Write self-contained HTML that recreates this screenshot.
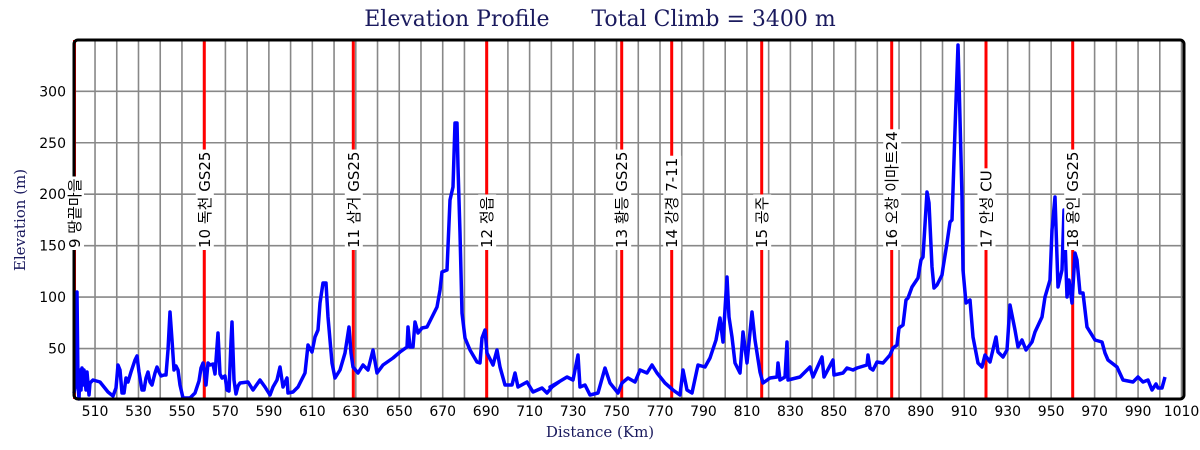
<!DOCTYPE html>
<html><head><meta charset="utf-8"><style>
html,body{margin:0;padding:0;background:#fff;}
svg{display:block;}
.tk{font-family:"DejaVu Sans","Liberation Sans",sans-serif;font-size:14px;fill:#000;}
.nv{font-family:"DejaVu Serif","Liberation Serif",serif;fill:#1a1a5e;}
.lb{font-family:"DejaVu Sans","Liberation Sans","Noto Sans CJK KR",sans-serif;font-size:15px;fill:#000;}
</style></head><body>
<svg id="s" width="1200" height="450" xmlns="http://www.w3.org/2000/svg">
<text class="nv" x="600" y="26" font-size="22" text-anchor="middle" xml:space="preserve">Elevation Profile      Total Climb = 3400 m</text>
<text class="nv" font-size="15" text-anchor="middle" transform="translate(25,220) rotate(-90)">Elevation (m)</text>
<text class="nv" x="600" y="437" font-size="15" text-anchor="middle">Distance (Km)</text>
<g id="grid"></g>
<g id="red"></g>
<polyline id="pl" fill="none" stroke="#0000ff" stroke-width="3.5" stroke-linejoin="round" points=""/>
<rect x="74" y="40" width="1110" height="359" rx="4" fill="none" stroke="#000" stroke-width="3"/>
<g id="lbls"></g>
<g id="ticks"></g>
</svg>
<script>
var NS="http://www.w3.org/2000/svg";
function el(t,a,p,txt){var e=document.createElementNS(NS,t);for(var k in a)e.setAttribute(k,a[k]);if(txt!=null)e.textContent=txt;document.getElementById(p).appendChild(e);return e;}
function X(km){return 73.3+(km-500)*2.173;}
function Y(v){return 400-v*1.029;}
for(var k=510;k<=1010;k+=10){el('line',{x1:X(k),x2:X(k),y1:40,y2:399,stroke:'#888','stroke-width':1.6},'grid');}
for(var v=50;v<=300;v+=50){el('line',{x1:74,x2:1184,y1:Y(v),y2:Y(v),stroke:'#888','stroke-width':1.6},'grid');
 el('text',{x:66,y:Y(v)+5,'text-anchor':'end','class':'tk'},'ticks',String(v));}
for(var k=510;k<=1010;k+=20){el('text',{x:X(k),y:416,'text-anchor':'middle','class':'tk'},'ticks',String(k));}
var reds=[[74.5,"9 땅끝마을"],[204.3,"10 독천 GS25"],[353.3,"11 삼거 GS25"],[486.7,"12 정읍"],[621.7,"13 황등 GS25"],[671.7,"14 강경 7-11"],[761.7,"15 공주"],[891.7,"16 오창 이마트24"],[986,"17 안성 CU"],[1072.7,"18 용인 GS25"]];
reds.forEach(function(r){el('line',{x1:r[0],x2:r[0],y1:40,y2:399,stroke:'#ff0000','stroke-width':3},'red');});
reds.forEach(function(r){
 var g=el('g',{transform:'translate('+(r[0]+5.5)+',248) rotate(-90)'},'lbls');
 var rc=document.createElementNS(NS,'rect');g.appendChild(rc);
 var t=document.createElementNS(NS,'text');t.setAttribute('class','lb');t.setAttribute('x',0);t.setAttribute('y',0);t.textContent=r[1];g.appendChild(t);
 var b=t.getBBox();rc.setAttribute('x',b.x-2);rc.setAttribute('y',b.y);rc.setAttribute('width',b.width+4);rc.setAttribute('height',b.height);rc.setAttribute('fill','#fff');
});
var P=[74,393,76,380,77,292,78,385,79,399,80,370,81,390,82,368,83,385,84,370,86,390,87,372,89,395,90,383,93,380,100,382,108,392,113,396,116,388,118,365,120,370,122,393,124,393,126,378,128,382,131,372,135,360,137,356,139,372,142,390,144,390,146,378,148,372,150,382,152,385,155,373,157,367,159,372,161,376,164,375,166,375,168,350,170,312,172,340,174,370,176,366,178,370,180,385,183,398,190,398,195,393,199,381,201,368,203,363,204,368,206,385,208,363,210,365,213,364,215,374,218,333,220,374,222,378,225,376,227,390,229,391,231,342,232,322,234,380,236,394,238,386,240,383,248,382,253,390,260,380,265,387,270,395,273,387,277,380,280,367,283,387,287,378,288,393,293,392,298,387,305,373,308,345,312,352,315,337,318,330,320,303,323,283,326,283,328,317,332,363,335,378,340,370,345,353,349,327,351,353,353,367,358,373,363,365,368,370,373,350,377,373,383,365,393,358,400,352,407,347,408,327,410,347,413,347,415,322,418,333,422,328,427,327,432,317,437,307,440,290,442,272,447,270,450,200,453,187,455,123,457,123,458,167,460,233,462,313,465,338,470,350,477,362,480,363,482,338,485,330,487,353,493,365,497,350,500,367,505,385,512,385,515,373,518,387,527,382,533,392,542,388,547,393,552,387,559,382,
550+0,387,557,383,567,377,573,380,578,355,580,387,585,385,590,395,598,393,605,368,610,383,618,393,622,383,628,378,635,382,640,370,647,373,652,365,657,373,665,383,673,390,680,395,683,370,687,390,692,393,698,365,705,367,710,358,716,340,720,318,723,342,727,277,729,317,732,337,735,363,740,373,743,332,747,363,752,312,755,340,760,372,763,383,770,378,777,377,778,363,780,380,785,377,787,342,788,380,800,377,810,367,813,377,822,357,824,377,833,360,834,375,843,373,847,368,853,370,857,368,867,365,868,355,870,368,873,370,877,362,883,363,890,355,893,348,897,345,899,328,903,325,906,300,908,298,912,287,918,278,921,260,923,257,927,192,929,203,932,267,934,288,937,285,942,275,943,268,947,243,950,222,952,220,955,130,957,73,958,45,959,80,962,197,963,270,966,303,970,300,973,337,978,363,982,367,985,355,990,362,996,337,998,352,1003,357,1007,350,1010,305,1015,330,1018,347,1022,340,1026,350,1032,342,1035,332,1042,317,1045,297,1050,280,1052,230,1055,197,1058,287,1062,270,1064,210,1067,297,1069,280,1072,303,1075,253,1077,260,1080,293,1083,293,1087,327,1095,340,1102,342,1105,353,1108,360,1117,367,1123,380,1133,382,1138,377,1143,382,1148,380,1152,390,1156,384,1158,388,1162,388,1165,377];
var s=[];for(var i=0;i<P.length;i+=2)s.push(P[i]+','+P[i+1]);
document.getElementById('pl').setAttribute('points',s.join(' '));
</script>
</body></html>
